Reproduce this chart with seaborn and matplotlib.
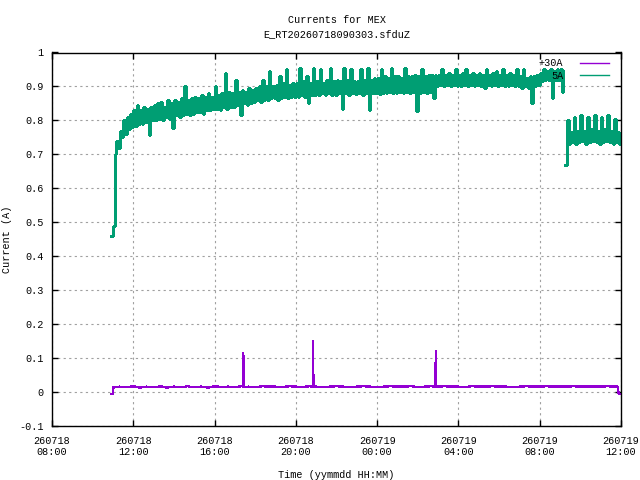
import numpy as np
import pandas as pd
import seaborn as sns
import matplotlib
matplotlib.use("Agg")
import matplotlib.pyplot as plt
import matplotlib.dates as mdates
from matplotlib.lines import Line2D

# ---------------- data ----------------
title_text = "Currents for MEX\nE_RT20260718090303.sfduZ"
series_names = ["+30A", "5A"]
x_label = "Time (yymmdd HH:MM)"
y_label = "Current (A)"
y_ticks = [-0.1, 0, 0.1, 0.2, 0.3, 0.4, 0.5, 0.6, 0.7, 0.8, 0.9, 1.0]
y_tick_labels = ["-0.1", "0", "0.1", "0.2", "0.3", "0.4", "0.5", "0.6", "0.7", "0.8", "0.9", "1"]
x_start = "2026-07-18 08:00"
x_end = "2026-07-19 12:00"

# 5A, first segment: samples every 10 min from 10:55 (low and high of each 10-min slot)
g5a_start = "2026-07-18 10:55"
g5a_lo = [
    0.46, 0.70, 0.72, 0.75, 0.76, 0.775,
    0.78, 0.785, 0.79, 0.79, 0.795, 0.757,
    0.80, 0.80, 0.805, 0.80, 0.81, 0.805,
    0.777, 0.815, 0.81, 0.815, 0.82, 0.815,
    0.82, 0.825, 0.825, 0.82, 0.83, 0.83,
    0.835, 0.835, 0.83, 0.84, 0.835, 0.84,
    0.84, 0.845, 0.815, 0.85, 0.845, 0.85,
    0.855, 0.86, 0.855, 0.86, 0.86, 0.865,
    0.865, 0.86, 0.865, 0.87, 0.865, 0.87,
    0.87, 0.87, 0.875, 0.87, 0.85, 0.875,
    0.875, 0.875, 0.88, 0.875, 0.88, 0.875,
    0.875, 0.88, 0.835, 0.88, 0.875, 0.88,
    0.878, 0.88, 0.875, 0.88, 0.832, 0.88,
    0.88, 0.878, 0.882, 0.88, 0.885, 0.88,
    0.88, 0.885, 0.88, 0.885, 0.88, 0.885,
    0.828, 0.88, 0.885, 0.88, 0.885, 0.865,
    0.90, 0.905, 0.90, 0.905, 0.90, 0.905,
    0.90, 0.90, 0.905, 0.90, 0.905, 0.90,
    0.905, 0.90, 0.895, 0.905, 0.90, 0.905,
    0.90, 0.905, 0.90, 0.90, 0.905, 0.90,
    0.90, 0.895, 0.90, 0.895, 0.85, 0.90,
    0.905, 0.915, 0.92, 0.92, 0.867, 0.92,
    0.92, 0.883,
]
g5a_hi = [
    0.49, 0.74, 0.77, 0.80, 0.81, 0.82,
    0.83, 0.845, 0.83, 0.84, 0.835, 0.84,
    0.845, 0.85, 0.855, 0.84, 0.86, 0.85,
    0.86, 0.855, 0.865, 0.90, 0.86, 0.865,
    0.87, 0.865, 0.875, 0.87, 0.88, 0.87,
    0.90, 0.875, 0.88, 0.94, 0.885, 0.88,
    0.92, 0.885, 0.89, 0.885, 0.895, 0.89,
    0.895, 0.90, 0.92, 0.90, 0.946, 0.90,
    0.905, 0.93, 0.91, 0.95, 0.905, 0.91,
    0.91, 0.955, 0.915, 0.93, 0.91, 0.955,
    0.915, 0.95, 0.91, 0.92, 0.955, 0.915,
    0.92, 0.915, 0.955, 0.92, 0.95, 0.915,
    0.915, 0.95, 0.92, 0.955, 0.92, 0.925,
    0.925, 0.95, 0.93, 0.925, 0.954, 0.93,
    0.93, 0.925, 0.954, 0.93, 0.93, 0.935,
    0.93, 0.95, 0.93, 0.935, 0.935, 0.933,
    0.935, 0.95, 0.935, 0.94, 0.935, 0.952,
    0.935, 0.94, 0.952, 0.935, 0.94, 0.935,
    0.94, 0.935, 0.95, 0.935, 0.94, 0.945,
    0.935, 0.952, 0.935, 0.94, 0.935, 0.95,
    0.93, 0.952, 0.925, 0.93, 0.93, 0.935,
    0.94, 0.95, 0.945, 0.95, 0.945, 0.95,
    0.95, 0.945,
]

# 5A, second segment after the drop, every 10 min from 09:15
g5b_start = "2026-07-19 09:15"
g5b_lo = [0.67, 0.73, 0.735, 0.73, 0.735, 0.74, 0.73, 0.735, 0.74,
          0.735, 0.73, 0.735, 0.74, 0.735, 0.73, 0.735, 0.73]
g5b_hi = [0.80, 0.765, 0.81, 0.77, 0.815, 0.77, 0.81, 0.775, 0.815,
          0.77, 0.81, 0.775, 0.815, 0.77, 0.805, 0.765, 0.75]

# +30A, every 20 min from 11:00
p30_start = "2026-07-18 11:00"
p30_vals = [
    0.013, 0.016, 0.014, 0.017, 0.013, 0.016,
    0.014, 0.017, 0.013, 0.016, 0.014, 0.017,
    0.014, 0.016, 0.013, 0.017, 0.015, 0.016,
    0.015, 0.017, 0.016, 0.014, 0.017, 0.016,
    0.016, 0.015, 0.017, 0.016, 0.015, 0.017,
    0.016, 0.015, 0.016, 0.017, 0.016, 0.015,
    0.016, 0.017, 0.016, 0.015, 0.016, 0.017,
    0.016, 0.016, 0.017, 0.015, 0.016, 0.017,
    0.016, 0.017, 0.016, 0.016, 0.015, 0.017,
    0.016, 0.016, 0.017, 0.016, 0.016, 0.015,
    0.016, 0.017, 0.016, 0.016, 0.017, 0.016,
    0.016, 0.016, 0.017, 0.016, 0.016, 0.016,
    0.016, 0.017, 0.016,
]
# +30A, individual readings (start, spikes, end)
p30_evt_times = ["2026-07-18 10:55", "2026-07-18 10:59",
                 "2026-07-18 17:24", "2026-07-18 17:25", "2026-07-18 17:26",
                 "2026-07-18 20:50", "2026-07-18 20:51", "2026-07-18 20:52",
                 "2026-07-19 02:52", "2026-07-19 02:53", "2026-07-19 02:54",
                 "2026-07-19 11:50", "2026-07-19 11:53", "2026-07-19 11:59"]
p30_evt_vals = [-0.005, -0.005,
                0.016, 0.114, 0.015,
                0.016, 0.151, 0.016,
                0.016, 0.121, 0.016,
                0.016, -0.005, -0.005]

# ---------------- frames ----------------
def lohi_frame(start, lo, hi):
    t0 = pd.Timestamp(start)
    t_lo = t0 + pd.to_timedelta(np.arange(len(lo)) * 10, unit="min")
    t_hi = t_lo + pd.Timedelta(minutes=5)
    df = pd.DataFrame({"time": np.concatenate([t_lo.values, t_hi.values]),
                       "current": np.concatenate([lo, hi])})
    return df.sort_values("time")

df_5a = lohi_frame(g5a_start, g5a_lo, g5a_hi)
df_5b = lohi_frame(g5b_start, g5b_lo, g5b_hi)

p_t = pd.Timestamp(p30_start) + pd.to_timedelta(np.arange(len(p30_vals)) * 20, unit="min")
df_p = pd.concat([pd.DataFrame({"time": p_t, "current": p30_vals}),
                  pd.DataFrame({"time": pd.to_datetime(p30_evt_times), "current": p30_evt_vals})])
df_p = df_p.sort_values("time")

# ---------------- plot ----------------
plt.rcParams["font.family"] = ["Liberation Mono", "DejaVu Sans Mono"]
plt.rcParams["font.size"] = 7.3

c_purple = "#9400d3"
c_green = "#009e73"

fig = plt.figure(figsize=(6.4, 4.8), dpi=100)
ax = fig.add_axes([52 / 640, 1 - 426 / 480, (621 - 52) / 640, (426 - 52.5) / 480])

sns.lineplot(data=df_p, x="time", y="current", ax=ax, color=c_purple, lw=0.9,
             estimator=None, sort=True, antialiased=False)
sns.lineplot(data=df_5a, x="time", y="current", ax=ax, color=c_green, lw=0.95,
             estimator=None, sort=True, drawstyle="steps-post", antialiased=False)
sns.lineplot(data=df_5b, x="time", y="current", ax=ax, color=c_green, lw=0.95,
             estimator=None, sort=True, drawstyle="steps-post", antialiased=False)

ax.set_xlim(pd.Timestamp(x_start), pd.Timestamp(x_end))
ax.set_ylim(-0.1, 1.0)
ax.set_yticks(y_ticks)
ax.set_yticklabels(y_tick_labels)
ax.xaxis.set_major_locator(mdates.HourLocator(byhour=[0, 4, 8, 12, 16, 20]))
ax.xaxis.set_major_formatter(mdates.DateFormatter("%y%m%d\n%H:%M"))

ax.grid(True, color="#a0a0a0", linestyle=(0, (2, 3)), linewidth=0.8)
ax.set_axisbelow(True)
for s in ax.spines.values():
    s.set_color("black")
    s.set_linewidth(1.0)
ax.tick_params(direction="in", length=4.5, width=1.0, top=True, right=True,
               labelsize=7.3, colors="black")
ax.tick_params(axis="x", pad=7)
ax.tick_params(axis="y", pad=6)

ax.set_xlabel(x_label, fontsize=7.3)
ax.set_ylabel(y_label, fontsize=7.3)
ax.xaxis.set_label_coords(0.5, -0.118)
ax.yaxis.set_label_coords(-0.07, 0.5)
ax.set_title(title_text, fontsize=7.3, linespacing=1.5, pad=11)

handles = [Line2D([], [], color=c_purple, lw=1.0), Line2D([], [], color=c_green, lw=1.0)]
ax.legend(handles, series_names, loc="upper right", bbox_to_anchor=(0.986, 0.995),
          frameon=False, markerfirst=False, handlelength=2.9, handletextpad=1.6,
          labelspacing=0.25, borderaxespad=0, fontsize=7.3)

fig.savefig("out.png", dpi=100, facecolor="white")
